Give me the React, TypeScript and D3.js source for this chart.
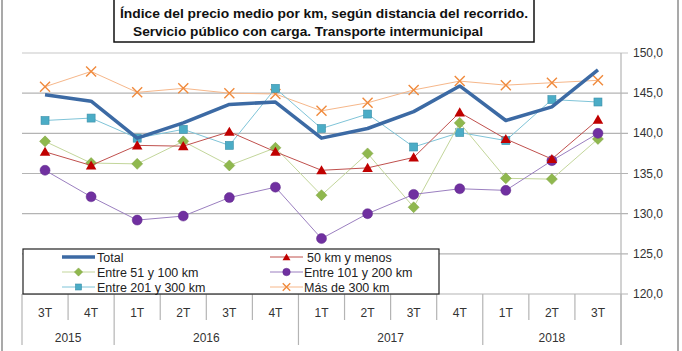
import React from 'react';
import * as d3 from 'd3';

const width = 682;
const height = 351;
const plot = { left: 22, right: 621, top: 53, bottom: 294 };

const quarters = ['3T', '4T', '1T', '2T', '3T', '4T', '1T', '2T', '3T', '4T', '1T', '2T', '3T'];
const years = [
  { label: '2015', from: 0, to: 2 },
  { label: '2016', from: 2, to: 6 },
  { label: '2017', from: 6, to: 10 },
  { label: '2018', from: 10, to: 13 },
];
const yTicks = [120, 125, 130, 135, 140, 145, 150];

const total = [144.8, 144.0, 139.4, 141.3, 143.6, 143.9, 139.4, 140.6, 142.7, 145.9, 141.6, 143.3, 147.9];
const km50 = [137.7, 136.0, 138.5, 138.4, 140.2, 137.7, 135.4, 135.7, 137.0, 142.6, 139.3, 136.8, 141.7];
const km51_100 = [139.0, 136.3, 136.2, 139.0, 136.0, 138.2, 132.3, 137.5, 130.8, 141.3, 134.4, 134.3, 139.3];
const km101_200 = [135.4, 132.1, 129.2, 129.7, 132.0, 133.3, 126.9, 130.0, 132.4, 133.1, 132.9, 136.6, 140.0];
const km201_300 = [141.6, 141.9, 139.4, 140.5, 138.5, 145.6, 140.6, 142.4, 138.3, 140.1, 139.1, 144.2, 143.9];
const km300 = [145.8, 147.7, 145.1, 145.6, 145.0, 144.9, 142.8, 143.8, 145.4, 146.5, 146.0, 146.3, 146.6];

type Marker = 'none' | 'triangle' | 'diamond' | 'circle' | 'square' | 'x';

const series: { name: string; values: number[]; line: string; fill: string; width: number; marker: Marker }[] = [
  { name: 'Más de 300 km', values: km300, line: '#F6B78A', fill: '#F08A3C', width: 1, marker: 'x' },
  { name: 'Entre 201 y 300 km', values: km201_300, line: '#7FC4D8', fill: '#4BACC6', width: 1, marker: 'square' },
  { name: 'Entre 51 y 100 km', values: km51_100, line: '#C3D69B', fill: '#8FB84E', width: 1, marker: 'diamond' },
  { name: 'Entre 101 y 200 km', values: km101_200, line: '#9B7FC0', fill: '#7030A0', width: 1, marker: 'circle' },
  { name: '50 km y menos', values: km50, line: '#C0504D', fill: '#C00000', width: 1, marker: 'triangle' },
  { name: 'Total', values: total, line: '#3C6AA4', fill: '#3C6AA4', width: 3.5, marker: 'none' },
];

const legendOrder = ['Total', '50 km y menos', 'Entre 51 y 100 km', 'Entre 101 y 200 km', 'Entre 201 y 300 km', 'Más de 300 km'];

const drawMarker = (m: Marker, x: number, y: number, fill: string, scale = 1, key?: string | number) => {
  if (m === 'circle') return <circle key={key} cx={x} cy={y} r={5 * scale} fill={fill} stroke="#5E2A8A" strokeWidth={0.5} />;
  if (m === 'triangle') {
    const p = d3.symbol().type(d3.symbolTriangle).size(48 * scale * scale)();
    return <path key={key} d={p || ''} transform={`translate(${x},${y + 1})`} fill={fill} />;
  }
  if (m === 'diamond') {
    const s = 5.5 * scale;
    return (
      <path key={key} d={`M${x},${y - s}L${x + s},${y}L${x},${y + s}L${x - s},${y}Z`}
        fill={fill} stroke="#7FA040" strokeWidth={0.5} />
    );
  }
  if (m === 'square') {
    const s = 8 * scale;
    return <rect key={key} x={x - s / 2} y={y - s / 2} width={s} height={s} fill={fill} stroke="#3B8FA8" strokeWidth={0.6} />;
  }
  if (m === 'x') {
    const s = 5 * scale;
    return (
      <path key={key} d={`M${x - s},${y - s}L${x + s},${y + s}M${x - s},${y + s}L${x + s},${y - s}`}
        stroke={fill} strokeWidth={1.4} fill="none" />
    );
  }
  return null;
};

export default function App() {
  const x = d3.scaleBand<number>()
    .domain(d3.range(quarters.length))
    .range([plot.left, plot.right])
    .padding(0);
  const y = d3.scaleLinear().domain([120, 150]).range([plot.bottom, plot.top]);
  const cx = (i: number) => (x(i) as number) + x.bandwidth() / 2;
  const line = d3.line<number>().x((_, i) => cx(i)).y(d => y(d));

  const font = 'Liberation Sans, Arial, sans-serif';
  const bw = x.bandwidth();

  return (
    <svg width={width} height={height} style={{ position: 'absolute', left: 0, top: 0 }} fontFamily={font}>
      <rect x={0} y={0} width={width} height={height} fill="#fff" />
      {/* chart area border */}
      <line x1={2} x2={2} y1={0} y2={height} stroke="#8C8C8C" strokeWidth={1.5} />
      <line x1={678} x2={678} y1={0} y2={height} stroke="#8C8C8C" strokeWidth={1.5} />

      {/* gridlines */}
      {yTicks.map(t => (
        <g key={t}>
          <line x1={plot.left} x2={plot.right + 7} y1={y(t)} y2={y(t)} stroke={t === 150 ? '#C8C8C8' : '#B4B4B4'} strokeWidth={1.2} />
          <text x={633} y={y(t) + 4} fontSize={12} fill="#333">{d3.format('.1f')(t).replace('.', ',')}</text>
        </g>
      ))}
      <line x1={plot.right} x2={plot.right} y1={plot.top} y2={345} stroke="#B4B4B4" strokeWidth={1.2} />

      {/* category axis */}
      {d3.range(quarters.length + 1).map(i => {
        const xx = plot.left + i * bw;
        const isYear = years.some(yr => yr.from === i) || i === quarters.length;
        return <line key={i} x1={xx} x2={xx} y1={plot.bottom} y2={isYear ? 345 : 320} stroke="#B4B4B4" strokeWidth={1.2} />;
      })}
      {quarters.map((q, i) => (
        <text key={i} x={cx(i)} y={317} fontSize={12} textAnchor="middle" fill="#333">{q}</text>
      ))}
      {years.map(yr => (
        <text key={yr.label} x={plot.left + ((yr.from + yr.to) / 2) * bw} y={342} fontSize={12} textAnchor="middle" fill="#333">{yr.label}</text>
      ))}

      {/* series */}
      {series.map(s => (
        <g key={s.name}>
          <path d={line(s.values) || ''} fill="none" stroke={s.line} strokeWidth={s.width} strokeLinejoin="round" />
          {s.values.map((v, i) => drawMarker(s.marker, cx(i), y(v), s.fill, 1, i))}
        </g>
      ))}

      {/* legend */}
      <rect x={23} y={249} width={416} height={45} fill="#fff" stroke="#222" strokeWidth={1.2} />
      {legendOrder.map((name, k) => {
        const s = series.find(d => d.name === name)!;
        const col = k % 2;
        const row = Math.floor(k / 2);
        const ly = 257 + row * 15;
        const lx = col === 0 ? 62 : 270;
        return (
          <g key={name}>
            <line x1={lx} x2={lx + 33} y1={ly} y2={ly} stroke={s.line} strokeWidth={s.width} />
            {drawMarker(s.marker, lx + 16.5, ly, s.fill, 0.75)}
            <text x={col === 0 ? 97 : name === '50 km y menos' ? 307 : 304} y={ly + 4.5} fontSize={12.5} fill="#222">{name}</text>
          </g>
        );
      })}

      {/* title */}
      <rect x={114} y={-2} width={420} height={44} fill="#fff" stroke="#111" strokeWidth={1.5} />
      <text x={120} y={18} fontSize={13} fontWeight="bold" fill="#111" textLength={408} lengthAdjust="spacingAndGlyphs">
        Índice del precio medio por km, según distancia del recorrido.
      </text>
      <text x={133} y={36} fontSize={13} fontWeight="bold" fill="#111" textLength={350} lengthAdjust="spacingAndGlyphs">
        Servicio público con carga. Transporte  intermunicipal
      </text>
    </svg>
  );
}
